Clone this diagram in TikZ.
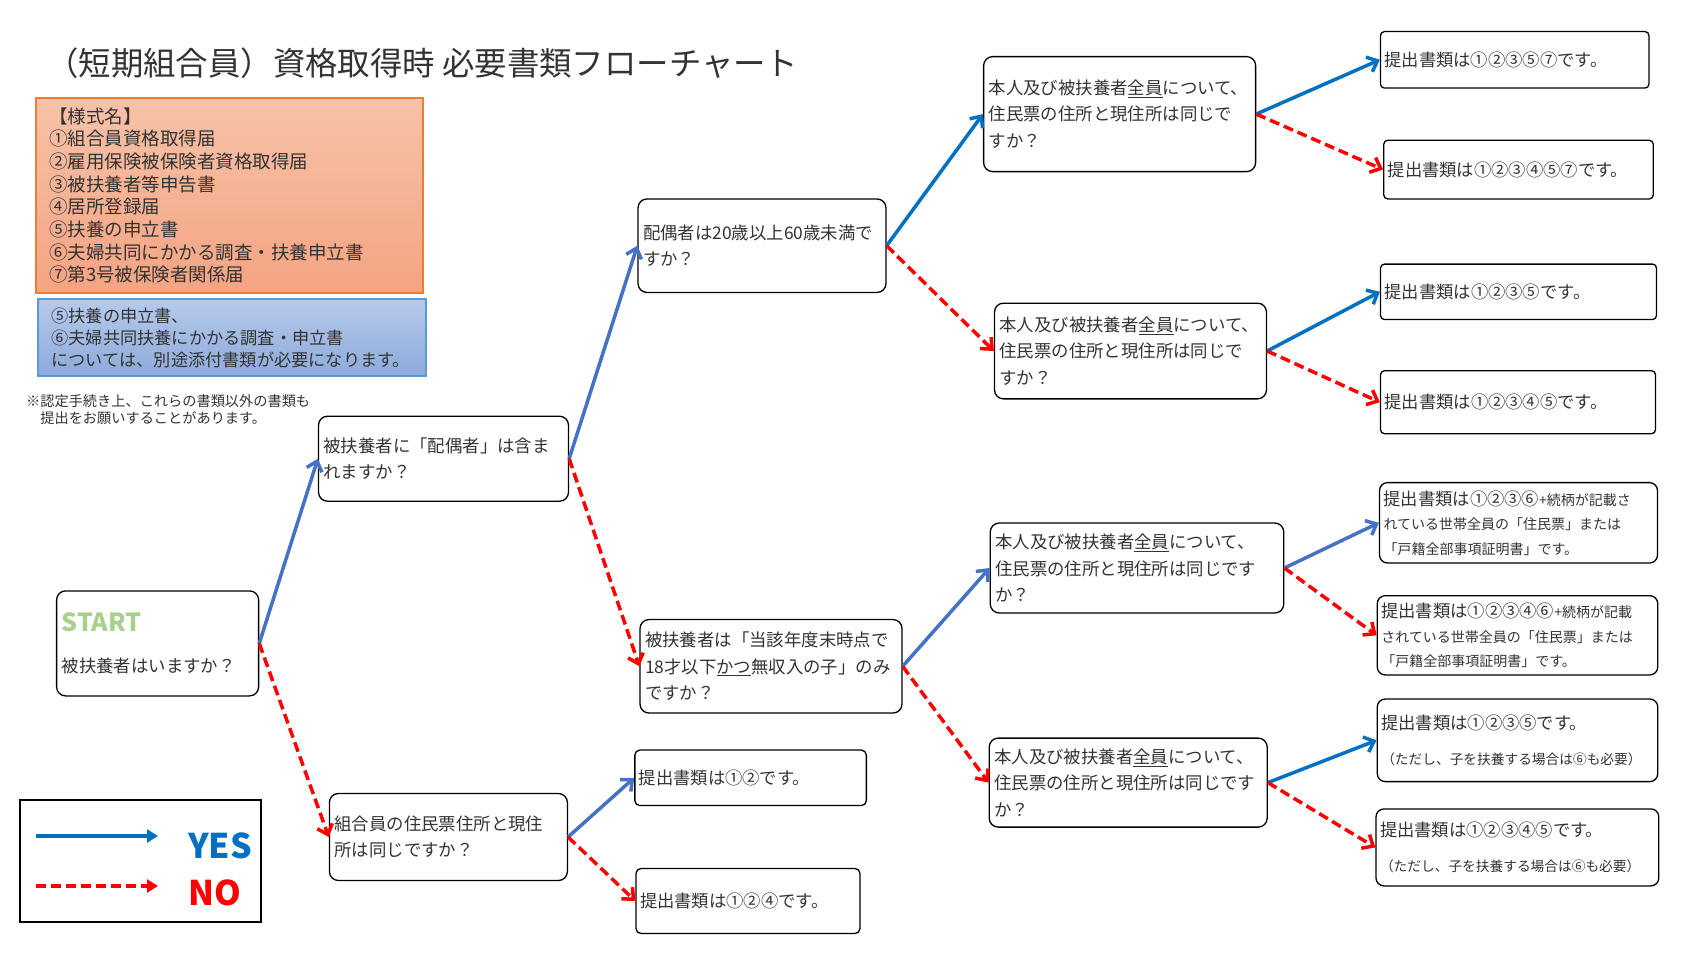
\documentclass[tikz,border=0pt]{standalone}
\usepackage{xcolor}
\usepackage{fontspec}
\usepackage{tikz}
\usetikzlibrary{arrows.meta}
\setmainfont{Noto Sans CJK JP}

\definecolor{yesblue}{HTML}{4472C4}
\definecolor{yesdark}{HTML}{0070C0}
\definecolor{nored}{HTML}{FF0000}
\definecolor{formtop}{HTML}{F7C2A8}
\definecolor{formbot}{HTML}{F4A482}
\definecolor{formline}{HTML}{ED7D31}
\definecolor{notetop}{HTML}{B6CAEA}
\definecolor{notebot}{HTML}{8EAADB}
\definecolor{noteline}{HTML}{5B9BD5}
\definecolor{startgreen}{HTML}{A9D18E}
\newcommand{\smalljp}{\fontsize{14}{24.5}\selectfont}

\begin{document}
\begin{tikzpicture}[x=1pt,y=-1pt,
    qbox/.style={draw, line width=1.3, rounded corners=9pt, fill=white, align=left,
      inner xsep=5pt, inner ysep=0pt, text=black!80, font=\fontsize{17.4}{26.5}\selectfont},
    rbox/.style={qbox, inner xsep=4pt, rounded corners=5pt, font=\fontsize{17.3}{26.5}\selectfont},
    yesline/.style={-{Straight Barb[length=9pt,width=16pt]}, line width=3.5, draw=yesblue},
    yesdarkline/.style={yesline, draw=yesdark},
    noline/.style={-{Straight Barb[length=9pt,width=16pt]}, line width=3.5, draw=nored,
      dash pattern=on 10pt off 5pt}]
    \useasboundingbox (0,0) rectangle (1702,959);

    % Title
    \node[anchor=west, inner sep=0, text=black!80, font=\fontsize{32.4}{38}\selectfont] (title) at (46,63)
      {（短期組合員）資格取得時 必要書類フローチャート};

    % Form names and extra documents
    \node[draw=formline, line width=1.2, top color=formtop, bottom color=formbot, align=left,
      text width=361pt, inner xsep=13pt, inner ysep=0pt, minimum height=195pt, text=black!80,
      font=\fontsize{18.5}{22.7}\selectfont] (forms) at (229.5,195.5)
      {【様式名】\\①組合員資格取得届\\②雇用保険被保険者資格取得届\\③被扶養者等申告書\\④居所登録届\\⑤扶養の申立書\\⑥夫婦共同にかかる調査・扶養申立書\\⑦第3号被保険者関係届};
    \node[draw=noteline, line width=1.2, top color=notetop, bottom color=notebot, align=left,
      text width=361pt, inner xsep=13.5pt, inner ysep=0pt, minimum height=77pt, text=black!80,
      font=\fontsize{17.2}{22}\selectfont] (extra) at (232,337.5)
      {⑤扶養の申立書、\\⑥夫婦共同扶養にかかる調査・申立書\\については、別途添付書類が必要になります。};
    \node[anchor=north west, inner sep=0, align=left, text=black!80, font=\fontsize{14.2}{17.5}\selectfont] (remark) at (26,394)
      {※認定手続き上、これらの書類以外の書類も\\\hspace*{1em}提出をお願いすることがあります。};

    % Legend
    \node[draw, line width=2.5, minimum width=241pt, minimum height=122pt, inner sep=0] (legend) at (140.3,860.9) {};
    \coordinate (yesfrom) at (36,836);
    \coordinate (yesto) at (158,836);
    \coordinate (nofrom) at (36,886);
    \coordinate (noto) at (158,886);
    \draw[line width=3.5, draw=yesdark, -{Triangle[length=11pt,width=13pt]}] (yesfrom) -- (yesto);
    \draw[line width=3.5, draw=nored, dash pattern=on 10pt off 5pt, -{Triangle[length=11pt,width=13pt]}] (nofrom) -- (noto);
    \node[anchor=west, inner sep=0, text=yesdark, font=\fontsize{34}{40}\selectfont\bfseries] (yeslabel) at (188,846) {YES};
    \node[anchor=west, inner sep=0, text=nored, font=\fontsize{34}{40}\selectfont\bfseries] (nolabel) at (188,893) {NO};

    % Questions
    \node[qbox, text width=192pt, minimum height=105pt] (start) at (157.6,643.4)
      {{\color{startgreen}\fontsize{25}{30}\selectfont\bfseries START}\\[14pt]被扶養者はいますか？};
    \node[qbox, text width=240pt, minimum height=85pt] (q1) at (443.5,458.7) {被扶養者に「配偶者」は含ま\\れますか？};
    \node[qbox, text width=238pt, minimum height=93.5pt] (q2) at (762,245.7) {配偶者は20歳以上60歳未満で\\すか？};
    \node[qbox, text width=252pt, minimum height=93.5pt] (q3) at (771,666.3)
      {被扶養者は「当該年度末時点で\\18才以下\underline{かつ}無収入の子」のみ\\ですか？};
    \node[qbox, text width=228pt, minimum height=87pt] (q4) at (448.4,837) {組合員の住民票住所と現住\\所は同じですか？};
    \node[qbox, text width=262pt, minimum height=115pt] (q5) at (1119.6,114.1)
      {本人及び被扶養者\underline{全員}について、\\住民票の住所と現住所は同じで\\すか？};
    \node[qbox, text width=262pt, minimum height=95.7pt] (q6) at (1130.5,351)
      {本人及び被扶養者\underline{全員}について、\\住民票の住所と現住所は同じで\\すか？};
    \node[qbox, text width=283.5pt, minimum height=90pt] (q7) at (1137,568)
      {本人及び被扶養者\underline{全員}について、\\住民票の住所と現住所は同じです\\か？};
    \node[qbox, text width=268pt, minimum height=89pt] (q8) at (1128.2,782.6)
      {本人及び被扶養者\underline{全員}について、\\住民票の住所と現住所は同じです\\か？};

    % Documents to submit
    \node[rbox, text width=223.5pt, minimum height=55.5pt] (ra) at (750.6,777.8) {提出書類は①②です。};
    \node[rbox, text width=216pt, minimum height=65pt] (rb) at (748,901) {提出書類は①②④です。};
    \node[rbox, rounded corners=4pt, text width=260.5pt, minimum height=56.5pt] (r1) at (1514.7,59.8) {提出書類は①②③⑤⑦です。};
    \node[rbox, rounded corners=4pt, text width=261.5pt, minimum height=58.7pt] (r2) at (1518.5,169.6) {提出書類は①②③④⑤⑦です。};
    \node[rbox, rounded corners=4pt, text width=268pt, minimum height=55.4pt] (r3) at (1518.5,291.8) {提出書類は①②③⑤です。};
    \node[rbox, rounded corners=4pt, text width=267pt, minimum height=63pt] (r4) at (1518,402.2) {提出書類は①②③④⑤です。};
    \node[rbox, rounded corners=8pt, text width=270pt, minimum height=80.4pt, font=\fontsize{17.3}{24.5}\selectfont] (r5) at (1518.5,522.8)
      {提出書類は①②③⑥{\smalljp +続柄が記載さ}\\{\smalljp れている世帯全員の「住民票」または}\\{\smalljp 「戸籍全部事項証明書」です。}};
    \node[rbox, rounded corners=8pt, text width=272.5pt, minimum height=79.3pt, font=\fontsize{17.3}{24.5}\selectfont] (r6) at (1517.5,635.3)
      {提出書類は①②③④⑥{\smalljp +続柄が記載}\\{\smalljp されている世帯全員の「住民票」または}\\{\smalljp 「戸籍全部事項証明書」です。}};
    \node[rbox, rounded corners=8pt, text width=272.5pt, minimum height=82.6pt, font=\fontsize{17.3}{34.8}\selectfont] (r7) at (1517.5,740.3)
      {提出書類は①②③⑤です。\\{\fontsize{13.7}{34.8}\selectfont （ただし、子を扶養する場合は⑥も必要）}};
    \node[rbox, rounded corners=8pt, text width=274.8pt, minimum height=77pt, font=\fontsize{17.3}{34.8}\selectfont] (r8) at (1517.4,847.4)
      {提出書類は①②③④⑤です。\\{\fontsize{13.7}{34.8}\selectfont （ただし、子を扶養する場合は⑥も必要）}};

    % Yes / no arrows
    \draw[yesline] (start.east) -- (q1.west);
    \draw[noline] (start.east) -- (q4.west);
    \draw[yesline] (q1.east) -- (q2.west);
    \draw[noline] (q1.east) -- (q3.west);
    \draw[yesdarkline] (q2.east) -- (q5.west);
    \draw[noline] (q2.east) -- (q6.west);
    \draw[yesline] (q3.east) -- (q7.west);
    \draw[noline] (q3.east) -- (q8.west);
    \draw[yesline] (q4.east) -- (ra.west);
    \draw[noline] (q4.east) -- (rb.west);
    \draw[yesdarkline] (q5.east) -- (r1.west);
    \draw[noline] (q5.east) -- (r2.west);
    \draw[yesdarkline] (q6.east) -- (r3.west);
    \draw[noline] (q6.east) -- (r4.west);
    \draw[yesline] (q7.east) -- (r5.west);
    \draw[noline] (q7.east) -- (r6.west);
    \draw[yesdarkline] (q8.east) -- (r7.west);
    \draw[noline] (q8.east) -- (r8.west);

\end{tikzpicture}
\end{document}
